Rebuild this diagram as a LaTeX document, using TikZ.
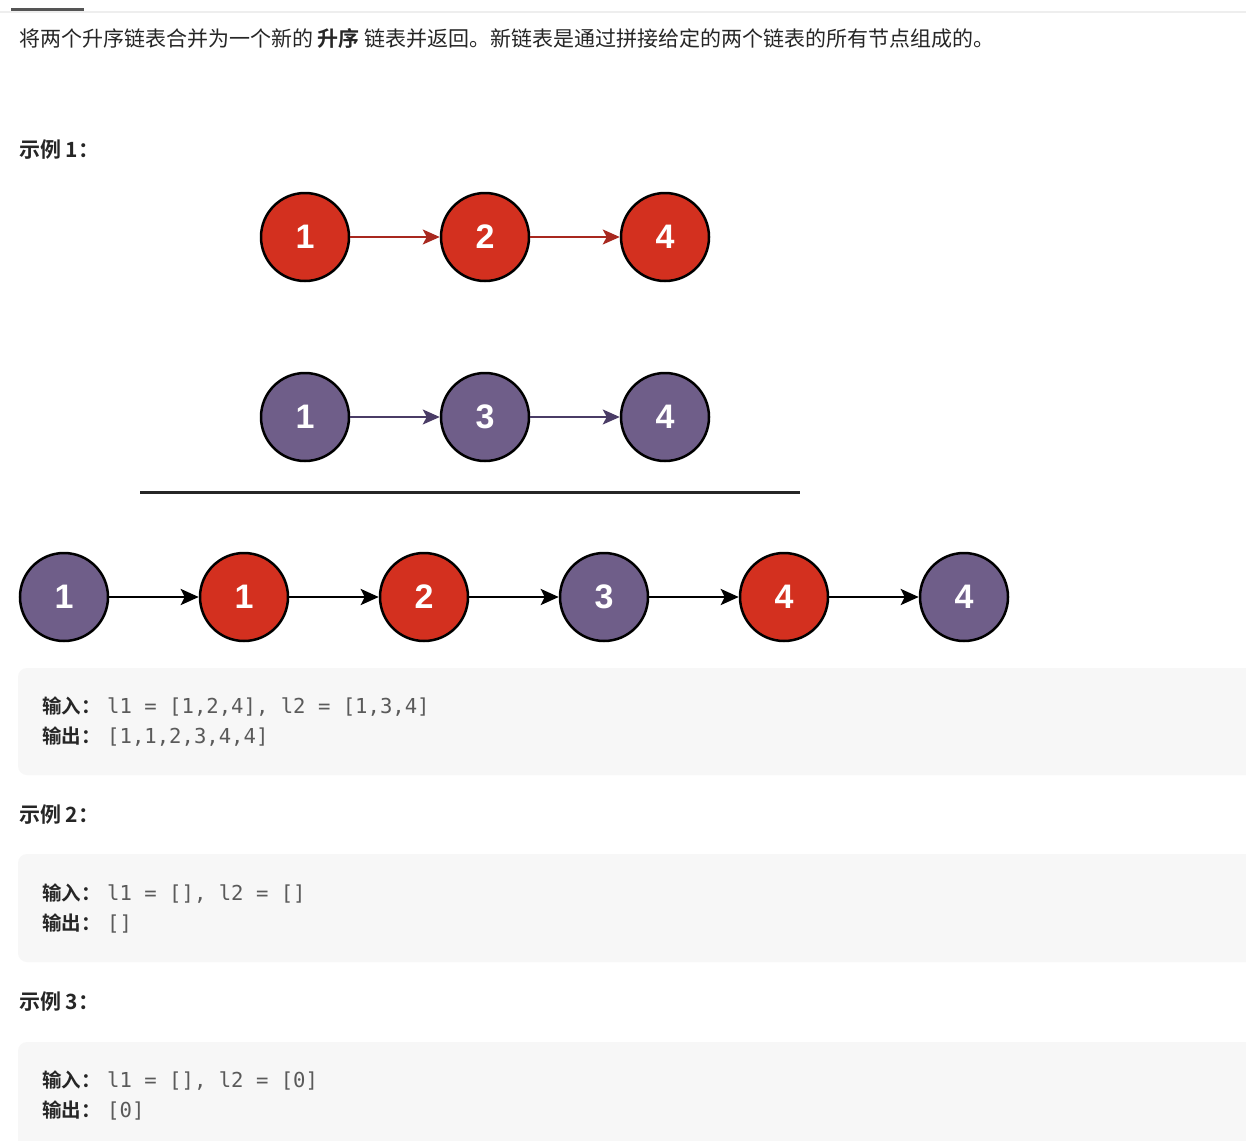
\documentclass[tikz,border=0pt]{standalone}
\usepackage{fontspec}
\usetikzlibrary{arrows.meta}
\setmainfont{Liberation Sans}
\newfontfamily\cjk{Noto Sans CJK SC}
\newfontfamily\cjkbold{Noto Sans CJK SC Bold}
\newfontfamily\codefont{DejaVu Sans Mono}
\newfontfamily\numfont{Liberation Sans}
\definecolor{lcred}{HTML}{D3301F}
\definecolor{lcpurple}{HTML}{6F5E89}
\definecolor{lcredarrow}{HTML}{A8281F}
\definecolor{lcpurparrow}{HTML}{4A3C66}
\definecolor{txt}{HTML}{262626}
\definecolor{codetxt}{HTML}{5A5A5A}
\definecolor{codebg}{HTML}{F7F7F7}
\definecolor{tabline}{HTML}{EEEEEE}
\definecolor{tabbar}{HTML}{555555}
\tikzset{
  listnode/.style={circle, draw=black, line width=2.5pt, minimum size=88pt, inner sep=0pt,
    text=white, font=\numfont\bfseries\fontsize{34}{34}\selectfont},
  rednode/.style={listnode, fill=lcred},
  purpnode/.style={listnode, fill=lcpurple},
  redlink/.style={draw=lcredarrow, line width=2pt, -{Stealth[length=17pt,width=15pt,inset=4pt]}},
  purplink/.style={draw=lcpurparrow, line width=2pt, -{Stealth[length=17pt,width=15pt,inset=4pt]}},
  blacklink/.style={draw=black, line width=2.8pt, -{Stealth[length=18pt,width=16pt,inset=4pt]}},
  bodytext/.style={anchor=base west, inner sep=0pt, text=txt, font=\cjk\fontsize{21}{24}\selectfont},
  headtext/.style={anchor=base west, inner sep=0pt, text=txt, font=\cjkbold\fontsize{21}{24}\selectfont},
  labeltext/.style={anchor=base west, inner sep=0pt, text=txt, font=\cjkbold\fontsize{19.5}{24}\selectfont},
  codetext/.style={anchor=base west, inner sep=0pt, text=codetxt, font=\codefont\fontsize{20.6}{24}\selectfont},
  codebox/.style={fill=codebg, rounded corners=9pt, draw=none}
}
\begin{document}
\begin{tikzpicture}[x=1pt,y=-1pt]
\clip (0,0) rectangle (1246,1140);
\fill[white] (0,0) rectangle (1246,1140);
% tab header
\fill[tabline] (0,11.5) rectangle (1246,13);
\fill[tabbar] (11,8) rectangle (84,11);
% description
\node[bodytext] (desc) at (19,47) {将两个升序链表合并为一个新的 {\cjkbold 升序} 链表并返回。新链表是通过拼接给定的两个链表的所有节点组成的。};
% example 1 heading
\node[headtext] (h1) at (19,157) {示例 1：};
% list 1
\node[rednode] (a1) at (305,237) {1};
\node[rednode] (a2) at (485,237) {2};
\node[rednode] (a3) at (665,237) {4};
\draw[redlink] (a1) -- (a2);
\draw[redlink] (a2) -- (a3);
% list 2
\node[purpnode] (b1) at (305,417) {1};
\node[purpnode] (b3) at (485,417) {3};
\node[purpnode] (b4) at (665,417) {4};
\draw[purplink] (b1) -- (b3);
\draw[purplink] (b3) -- (b4);
% separator
\coordinate (sepL) at (140,492);
\coordinate (sepR) at (800,492);
\draw[line width=3pt, color=black!85] (sepL) -- (sepR);
% merged list
\node[purpnode] (m1) at (64,597) {1};
\node[rednode] (m2) at (244,597) {1};
\node[rednode] (m3) at (424,597) {2};
\node[purpnode] (m4) at (604,597) {3};
\node[rednode] (m5) at (784,597) {4};
\node[purpnode] (m6) at (964,597) {4};
\draw[blacklink] (m1) -- (m2);
\draw[blacklink] (m2) -- (m3);
\draw[blacklink] (m3) -- (m4);
\draw[blacklink] (m4) -- (m5);
\draw[blacklink] (m5) -- (m6);
% code box 1
\path[codebox] (18,668) rectangle (1262,775);
\node[labeltext] (in1) at (42,713) {输入：};
\node[codetext] (in1c) at (107,713) {l1 = [1,2,4], l2 = [1,3,4]};
\node[labeltext] (out1) at (42,743) {输出：};
\node[codetext] (out1c) at (107,743) {[1,1,2,3,4,4]};
% example 2
\node[headtext] (h2) at (19,822) {示例 2：};
\path[codebox] (18,854) rectangle (1262,962);
\node[labeltext] (in2) at (42,900) {输入：};
\node[codetext] (in2c) at (107,900) {l1 = [], l2 = []};
\node[labeltext] (out2) at (42,930) {输出：};
\node[codetext] (out2c) at (107,930) {[]};
% example 3
\node[headtext] (h3) at (19,1009) {示例 3：};
\path[codebox] (18,1042) rectangle (1262,1160);
\node[labeltext] (in3) at (42,1087) {输入：};
\node[codetext] (in3c) at (107,1087) {l1 = [], l2 = [0]};
\node[labeltext] (out3) at (42,1117) {输出：};
\node[codetext] (out3c) at (107,1117) {[0]};
\end{tikzpicture}
\end{document}
